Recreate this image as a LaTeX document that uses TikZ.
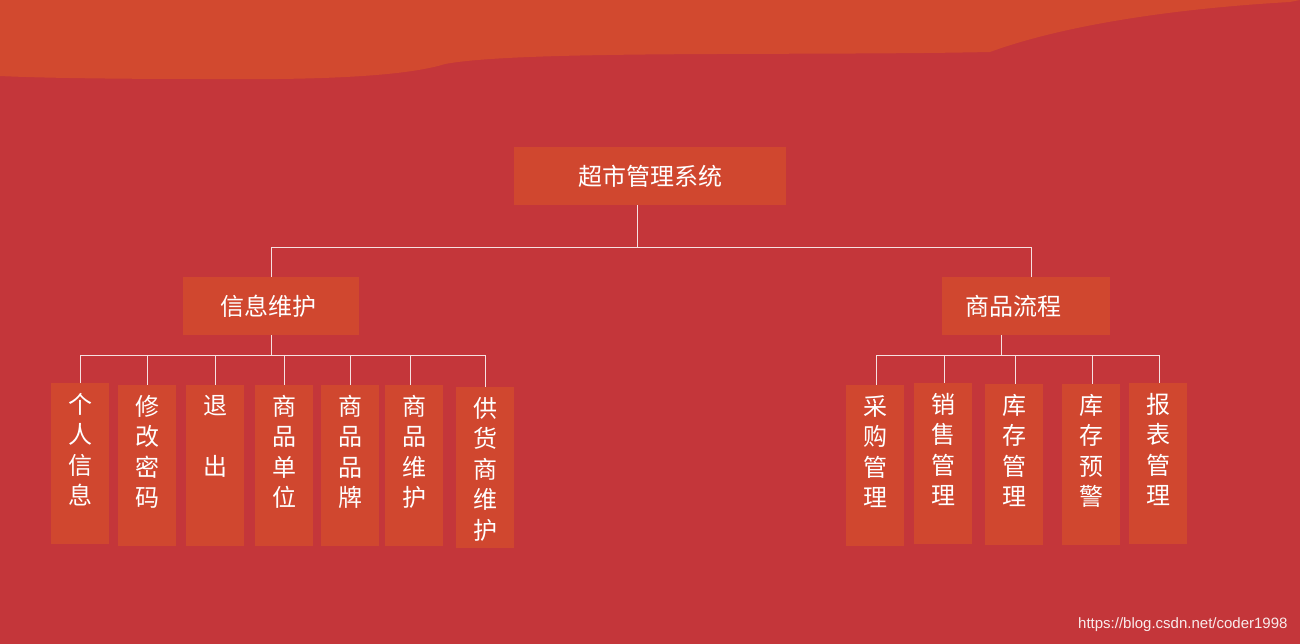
\documentclass[tikz,border=0pt]{standalone}
\usepackage{fontspec}
\newfontfamily\cjk{Noto Sans CJK SC}
\setsansfont{Liberation Sans}
\definecolor{bg}{HTML}{C4363A}
\definecolor{band}{HTML}{D2492F}
\definecolor{boxc}{HTML}{D0472F}
\begin{document}
\begin{tikzpicture}[x=1pt,y=-1pt,
  box/.style={fill=boxc,draw=none,inner sep=0pt},
  lbl/.style={text=white,font=\cjk\fontsize{24}{30.5}\selectfont,align=center,anchor=north,inner sep=0pt},
  ln/.style={draw=white!85!bg,line width=0.8pt}]
\fill[bg] (0,0) rectangle (1300,644);
\useasboundingbox (0,0) rectangle (1300,644);
\fill[band] (0,0) -- (1300,0) -- (1290,2) .. controls (1150,10) and (1050,30) .. (990,52)
  .. controls (800,56) and (520,50) .. (445,64) .. controls (400,78) and (300,80) .. (200,79)
  .. controls (120,79) and (40,78) .. (0,76) -- cycle;
% root and level 1
\fill[box] (514,147) rectangle (786,205);
\node[text=white,font=\cjk\fontsize{24}{28}\selectfont] (root) at (650,176) {超市管理系统};
\fill[box] (183,277) rectangle (359,335);
\node[text=white,font=\cjk\fontsize{24}{28}\selectfont] (a) at (268,306) {信息维护};
\fill[box] (942,277) rectangle (1110,335);
\node[text=white,font=\cjk\fontsize{24}{28}\selectfont] (b) at (1013,306) {商品流程};
\coordinate (r0) at (637,205); \coordinate (r1) at (637,247);
\coordinate (al) at (271,247); \coordinate (ar) at (1031,247);
\draw[ln] (r0) -- (r1);
\draw[ln] (271,277) -- (al) -- (ar) -- (1031,277);
% left leaves
\draw[ln] (271,335) -- (271,355);
\draw[ln] (80,355) -- (485,355);
\foreach \x/\y/\t/\lx in {51/383/{个\\人\\信\\息}/80,118/385/{修\\改\\密\\码}/147,186/385/{退\\ \\出}/215,255/385/{商\\品\\单\\位}/284,321/385/{商\\品\\品\\牌}/350,385/385/{商\\品\\维\\护}/410,456/387/{供\\货\\商\\维\\护}/485}{
  \fill[box] (\x,\y) rectangle (\x+58,\y+161);
  \node[lbl] at (\x+29,\y+10) {\t};
  \draw[ln] (\lx,355) -- (\lx,\y);
}
% right leaves
\draw[ln] (1001,335) -- (1001,355);
\draw[ln] (876,355) -- (1159,355);
\foreach \x/\y/\t/\lx in {846/385/{采\\购\\管\\理}/876,914/383/{销\\售\\管\\理}/944,985/384/{库\\存\\管\\理}/1015,1062/384/{库\\存\\预\\警}/1092,1129/383/{报\\表\\管\\理}/1159}{
  \fill[box] (\x,\y) rectangle (\x+58,\y+161);
  \node[lbl] at (\x+29,\y+10) {\t};
  \draw[ln] (\lx,355) -- (\lx,\y);
}
\node[text=white!90!bg,font=\sffamily\fontsize{15}{18}\selectfont,anchor=east] (wm) at (1291,625) {https://blog.csdn.net/coder1998};
\end{tikzpicture}
\end{document}
